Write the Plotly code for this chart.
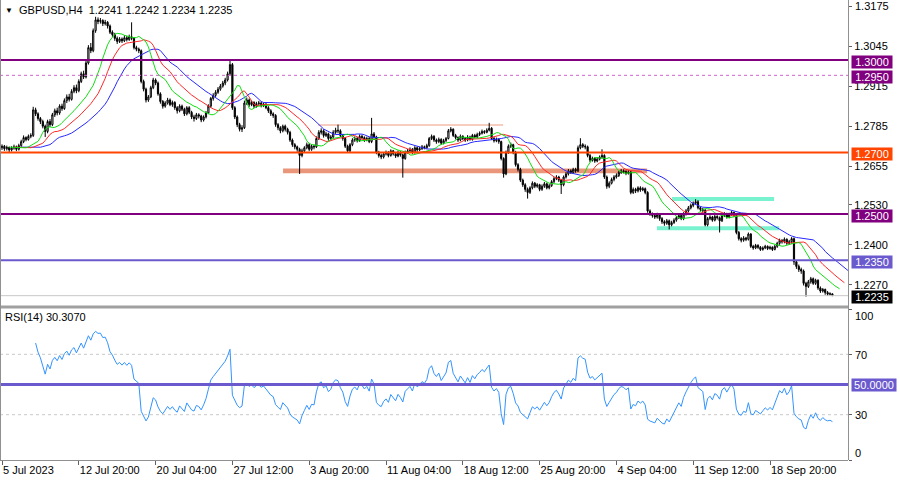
import numpy as np
import plotly.graph_objects as go

# ---------------- data (prices in pips: 2720 -> 1.2720) ----------------
symbol_title = "GBPUSD,H4\u00a0\u00a01.2241 1.2242 1.2234 1.2235"
rsi_title = "RSI(14) 30.3070"

tick_bars = [0, 32, 64, 96, 128, 160, 192, 224, 256, 288, 320]
tick_labels = ["5 Jul 2023", "12 Jul 20:00", "20 Jul 04:00", "27 Jul 12:00", "3 Aug 20:00",
               "11 Aug 04:00", "18 Aug 12:00", "25 Aug 20:00", "4 Sep 04:00", "11 Sep 12:00",
               "18 Sep 20:00"]
price_ticks = [1.3175, 1.3045, 1.2915, 1.2785, 1.2655, 1.2530, 1.2400, 1.2270]

opens_p = [
    2715, 2720, 2712, 2716, 2708, 2714, 2718, 2710, 2722, 2735,
    2748, 2742, 2752, 2755, 2838, 2825, 2810, 2800, 2785, 2768,
    2800, 2790, 2822, 2835, 2828, 2850, 2842, 2868, 2880, 2872,
    2898, 2910, 2900, 2930, 2955, 2945, 2990, 3040, 3030, 3095,
    3130, 3125, 3128, 3118, 3122, 3110, 3090, 3082, 3070, 3060,
    3068, 3062, 3072, 3066, 3075, 3070, 3040, 3035, 3030, 2930,
    2905, 2870, 2880, 2910, 2935, 2925, 2890, 2865, 2850, 2860,
    2870, 2855, 2862, 2845, 2835, 2850, 2840, 2825, 2845, 2830,
    2815, 2810, 2822, 2818, 2805, 2815, 2828, 2850, 2875, 2885,
    2895, 2905, 2915, 2925, 2935, 2955, 2985, 2845, 2815, 2790,
    2775, 2780, 2860, 2870, 2855, 2862, 2850, 2858, 2860, 2852,
    2856, 2845, 2835, 2825, 2820, 2790, 2780, 2770, 2785, 2775,
    2765, 2740, 2725, 2718, 2710, 2690, 2705, 2715, 2725, 2710,
    2720, 2718, 2745, 2765, 2770, 2755, 2760, 2745, 2750, 2765,
    2772, 2770, 2755, 2745, 2720, 2705, 2725, 2740, 2745, 2738,
    2752, 2748, 2740, 2745, 2735, 2760, 2750, 2700, 2690, 2685,
    2695, 2700, 2690, 2705, 2695, 2688, 2700, 2692, 2680, 2700,
    2705, 2710, 2700, 2715, 2708, 2712, 2718, 2715, 2722, 2745,
    2752, 2740, 2735, 2742, 2730, 2738, 2745, 2770, 2775, 2755,
    2748, 2740, 2752, 2745, 2740, 2750, 2742, 2755, 2750, 2758,
    2762, 2768, 2765, 2772, 2778, 2745, 2738, 2742, 2735, 2680,
    2630, 2700, 2720, 2725, 2700, 2660, 2645, 2610, 2595, 2580,
    2570, 2585, 2600, 2590, 2595, 2580, 2590, 2598, 2585, 2592,
    2605, 2615, 2620, 2610, 2595, 2620, 2630, 2640, 2635, 2645,
    2640, 2715, 2725, 2720, 2718, 2690, 2675, 2680, 2672, 2678,
    2685, 2690, 2620, 2590, 2600, 2612, 2620, 2625, 2635, 2640,
    2638, 2632, 2636, 2570, 2580, 2575, 2585, 2578, 2582, 2570,
    2510, 2500, 2495, 2490, 2498, 2485, 2475, 2470, 2478, 2465,
    2472, 2480, 2488, 2495, 2485, 2500, 2510, 2520, 2528, 2535,
    2540, 2520, 2515, 2512, 2465, 2485, 2490, 2480, 2492, 2488,
    2478, 2495, 2500, 2490, 2498, 2505, 2495, 2440, 2420, 2415,
    2422, 2418, 2435, 2395, 2390, 2398, 2392, 2385, 2390, 2395,
    2388, 2392, 2385, 2395, 2405, 2415, 2410, 2418, 2405, 2410,
    2420, 2345, 2330, 2320, 2315, 2275, 2265, 2280, 2290, 2275,
    2285, 2260, 2250, 2255, 2245, 2240, 2241]

highs_p = [
    2726, 2724, 2722, 2719, 2720, 2725, 2722, 2728, 2741, 2755,
    2752, 2758, 2762, 2848, 2845, 2830, 2815, 2806, 2790, 2806,
    2808, 2828, 2842, 2845, 2856, 2858, 2875, 2888, 2890, 2905,
    2918, 2920, 2937, 2962, 2965, 2998, 3048, 3055, 3102, 3140,
    3138, 3136, 3132, 3130, 3126, 3115, 3096, 3088, 3076, 3074,
    3073, 3080, 3078, 3082, 3122, 3074, 3046, 3040, 3034, 2936,
    2910, 2886, 2916, 2942, 2940, 2930, 2895, 2870, 2866, 2877,
    2875, 2868, 2866, 2850, 2856, 2855, 2845, 2850, 2850, 2835,
    2822, 2828, 2827, 2822, 2820, 2834, 2856, 2880, 2892, 2902,
    2912, 2922, 2932, 2942, 2962, 2998, 2990, 2850, 2820, 2796,
    2788, 2868, 2878, 2875, 2868, 2866, 2864, 2867, 2865, 2862,
    2860, 2850, 2840, 2830, 2824, 2795, 2785, 2790, 2790, 2780,
    2770, 2745, 2730, 2722, 2715, 2712, 2720, 2732, 2730, 2726,
    2725, 2752, 2772, 2778, 2775, 2767, 2764, 2756, 2772, 2780,
    2790, 2775, 2760, 2750, 2725, 2730, 2746, 2752, 2750, 2758,
    2757, 2752, 2751, 2750, 2812, 2766, 2754, 2705, 2696, 2700,
    2706, 2704, 2710, 2708, 2700, 2706, 2704, 2696, 2706, 2711,
    2716, 2714, 2720, 2719, 2718, 2724, 2722, 2728, 2750, 2758,
    2756, 2745, 2748, 2746, 2744, 2750, 2776, 2782, 2778, 2760,
    2752, 2758, 2756, 2750, 2756, 2754, 2760, 2760, 2764, 2768,
    2774, 2772, 2778, 2796, 2782, 2750, 2748, 2746, 2738, 2684,
    2706, 2726, 2732, 2728, 2705, 2665, 2650, 2615, 2600, 2586,
    2590, 2606, 2604, 2600, 2598, 2596, 2604, 2602, 2598, 2610,
    2620, 2626, 2624, 2614, 2625, 2636, 2646, 2645, 2650, 2650,
    2722, 2746, 2730, 2726, 2722, 2695, 2686, 2684, 2684, 2690,
    2710, 2694, 2625, 2606, 2618, 2626, 2632, 2640, 2646, 2645,
    2642, 2642, 2640, 2586, 2585, 2590, 2590, 2588, 2586, 2574,
    2515, 2505, 2500, 2504, 2502, 2490, 2480, 2484, 2482, 2478,
    2486, 2494, 2500, 2500, 2506, 2516, 2526, 2534, 2541, 2548,
    2545, 2525, 2520, 2516, 2490, 2496, 2494, 2498, 2496, 2492,
    2500, 2506, 2504, 2504, 2510, 2508, 2498, 2445, 2425, 2428,
    2426, 2440, 2438, 2400, 2403, 2402, 2396, 2395, 2400, 2398,
    2397, 2395, 2400, 2410, 2420, 2418, 2424, 2421, 2416, 2425,
    2424, 2350, 2336, 2326, 2320, 2280, 2286, 2296, 2294, 2290,
    2288, 2265, 2260, 2258, 2250, 2246, 2242]

lows_p = [
    2708, 2705, 2706, 2700, 2703, 2709, 2704, 2706, 2718, 2730,
    2736, 2738, 2746, 2750, 2818, 2803, 2792, 2778, 2750, 2762,
    2782, 2785, 2815, 2820, 2822, 2835, 2838, 2860, 2865, 2868,
    2892, 2892, 2895, 2925, 2938, 2940, 2985, 3022, 3025, 3088,
    3116, 3118, 3110, 3112, 3102, 3084, 3075, 3062, 3052, 3055,
    3055, 3058, 3060, 3062, 3064, 3034, 3028, 3022, 2924, 2898,
    2862, 2864, 2876, 2905, 2918, 2884, 2858, 2842, 2845, 2855,
    2850, 2848, 2838, 2826, 2830, 2834, 2818, 2820, 2824, 2808,
    2800, 2805, 2810, 2798, 2800, 2810, 2824, 2845, 2868, 2880,
    2890, 2900, 2910, 2918, 2930, 2950, 2838, 2808, 2782, 2768,
    2766, 2776, 2854, 2848, 2850, 2844, 2845, 2852, 2846, 2847,
    2840, 2828, 2818, 2812, 2783, 2772, 2762, 2765, 2768, 2758,
    2734, 2718, 2710, 2702, 2630, 2684, 2698, 2710, 2704, 2705,
    2710, 2714, 2740, 2758, 2748, 2750, 2738, 2740, 2745, 2760,
    2762, 2750, 2738, 2714, 2698, 2700, 2720, 2734, 2732, 2734,
    2742, 2734, 2736, 2730, 2730, 2744, 2694, 2683, 2678, 2680,
    2690, 2684, 2686, 2690, 2682, 2684, 2686, 2618, 2676, 2696,
    2700, 2694, 2696, 2702, 2704, 2708, 2710, 2712, 2718, 2740,
    2734, 2728, 2730, 2724, 2726, 2734, 2742, 2765, 2750, 2742,
    2734, 2736, 2740, 2734, 2736, 2738, 2738, 2745, 2746, 2753,
    2758, 2760, 2762, 2768, 2740, 2732, 2733, 2728, 2674, 2618,
    2626, 2695, 2714, 2694, 2654, 2638, 2604, 2588, 2572, 2550,
    2565, 2580, 2584, 2585, 2574, 2575, 2585, 2580, 2580, 2588,
    2600, 2610, 2604, 2565, 2590, 2615, 2625, 2630, 2630, 2634,
    2636, 2710, 2714, 2710, 2684, 2668, 2670, 2666, 2668, 2674,
    2680, 2614, 2582, 2584, 2596, 2606, 2615, 2620, 2630, 2632,
    2626, 2628, 2564, 2565, 2568, 2570, 2572, 2574, 2564, 2504,
    2494, 2488, 2484, 2485, 2478, 2468, 2462, 2465, 2450, 2460,
    2468, 2475, 2484, 2480, 2480, 2495, 2505, 2515, 2522, 2530,
    2515, 2508, 2505, 2460, 2460, 2480, 2475, 2476, 2482, 2440,
    2474, 2490, 2485, 2486, 2494, 2490, 2434, 2414, 2408, 2410,
    2412, 2414, 2390, 2384, 2386, 2387, 2380, 2381, 2386, 2383,
    2384, 2380, 2382, 2390, 2400, 2404, 2405, 2400, 2400, 2404,
    2335, 2322, 2312, 2306, 2268, 2232, 2260, 2274, 2270, 2270,
    2254, 2244, 2245, 2238, 2234, 2235, 2234]

closes_p = [
    2720, 2712, 2716, 2708, 2714, 2718, 2710, 2722, 2735, 2748,
    2742, 2752, 2755, 2838, 2825, 2810, 2800, 2785, 2768, 2800,
    2790, 2822, 2835, 2828, 2850, 2842, 2868, 2880, 2872, 2898,
    2910, 2900, 2930, 2955, 2945, 2990, 3040, 3030, 3095, 3130,
    3125, 3128, 3118, 3122, 3110, 3090, 3082, 3070, 3060, 3068,
    3062, 3072, 3066, 3075, 3070, 3040, 3035, 3030, 2930, 2905,
    2870, 2880, 2910, 2935, 2925, 2890, 2865, 2850, 2860, 2870,
    2855, 2862, 2845, 2835, 2850, 2840, 2825, 2845, 2830, 2815,
    2810, 2822, 2818, 2805, 2815, 2828, 2850, 2875, 2885, 2895,
    2905, 2915, 2925, 2935, 2955, 2985, 2845, 2815, 2790, 2775,
    2780, 2860, 2870, 2855, 2862, 2850, 2858, 2860, 2852, 2856,
    2845, 2835, 2825, 2820, 2790, 2780, 2770, 2785, 2775, 2765,
    2740, 2725, 2718, 2710, 2690, 2705, 2715, 2725, 2710, 2720,
    2718, 2745, 2765, 2770, 2755, 2760, 2745, 2750, 2765, 2772,
    2770, 2755, 2745, 2720, 2705, 2725, 2740, 2745, 2738, 2752,
    2748, 2740, 2745, 2735, 2760, 2750, 2700, 2690, 2685, 2695,
    2700, 2690, 2705, 2695, 2688, 2700, 2692, 2680, 2700, 2705,
    2710, 2700, 2715, 2708, 2712, 2718, 2715, 2722, 2745, 2752,
    2740, 2735, 2742, 2730, 2738, 2745, 2770, 2775, 2755, 2748,
    2740, 2752, 2745, 2740, 2750, 2742, 2755, 2750, 2758, 2762,
    2768, 2765, 2772, 2778, 2745, 2738, 2742, 2735, 2680, 2630,
    2700, 2720, 2725, 2700, 2660, 2645, 2610, 2595, 2580, 2570,
    2585, 2600, 2590, 2595, 2580, 2590, 2598, 2585, 2592, 2605,
    2615, 2620, 2610, 2595, 2620, 2630, 2640, 2635, 2645, 2640,
    2715, 2725, 2720, 2718, 2690, 2675, 2680, 2672, 2678, 2685,
    2690, 2620, 2590, 2600, 2612, 2620, 2625, 2635, 2640, 2638,
    2632, 2636, 2570, 2580, 2575, 2585, 2578, 2582, 2570, 2510,
    2500, 2495, 2490, 2498, 2485, 2475, 2470, 2478, 2465, 2472,
    2480, 2488, 2495, 2485, 2500, 2510, 2520, 2528, 2535, 2540,
    2520, 2515, 2512, 2465, 2485, 2490, 2480, 2492, 2488, 2478,
    2495, 2500, 2490, 2498, 2505, 2495, 2440, 2420, 2415, 2422,
    2418, 2435, 2395, 2390, 2398, 2392, 2385, 2390, 2395, 2388,
    2392, 2385, 2395, 2405, 2415, 2410, 2418, 2405, 2410, 2420,
    2345, 2330, 2320, 2315, 2275, 2265, 2280, 2290, 2275, 2285,
    2260, 2250, 2255, 2245, 2240, 2241, 2235]

level_prices = [1.3000, 1.2950, 1.2700, 1.2500, 1.2350]
level_names = ["1.3000", "1.2950", "1.2700", "1.2500", "1.2350"]
bid_price = 1.2235
rsi_levels = [30, 70]
rsi_mid = 50

assert len(opens_p) == len(highs_p) == len(lows_p) == len(closes_p)

# ---------------- derived series ----------------
o = 1 + np.array(opens_p) / 1e4
h = 1 + np.array(highs_p) / 1e4
l = 1 + np.array(lows_p) / 1e4
c = 1 + np.array(closes_p) / 1e4
n = len(c)
idx = np.arange(n)


def smma(src, period):
    out = np.empty(len(src))
    out[0] = src[0]
    for k in range(1, len(src)):
        out[k] = (out[k - 1] * (period - 1) + src[k]) / period
    return out


med = (h + l) / 2
jaw = smma(med, 13)
teeth = smma(med, 8)
lips = smma(med, 5)

period = 14
d = np.diff(c)
gain = np.clip(d, 0, None)
loss = np.clip(-d, 0, None)
rsi = np.full(n, np.nan)
ag = gain[:period].mean()
al = loss[:period].mean()
rsi[period] = 100 - 100 / (1 + ag / al)
for k in range(period + 1, n):
    ag = (ag * (period - 1) + gain[k - 1]) / period
    al = (al * (period - 1) + loss[k - 1]) / period
    rsi[k] = 100 - 100 / (1 + ag / al) if al > 0 else 100

# ---------------- figure ----------------
W, H = 900, 480
PLOT_R = 848


def px(x):
    return x / W


def py(y):
    return 1 - y / H


FONT = "Liberation Sans, Arial, sans-serif"
xr = [-2 / 2.4, (PLOT_R - 2) / 2.4]
yr = [1.3175 - 299 * 0.0003245, 1.3175 + 6 * 0.0003245]

fig = go.Figure()
fig.add_trace(go.Candlestick(
    x=idx, open=o, high=h, low=l, close=c,
    increasing=dict(line=dict(color="black", width=1), fillcolor="white"),
    decreasing=dict(line=dict(color="black", width=1), fillcolor="black"),
    whiskerwidth=0, hoverinfo="skip", xaxis="x", yaxis="y"))
fig.add_trace(go.Scatter(x=idx + 8, y=jaw, mode="lines", line=dict(color="#2828FF", width=1),
                         xaxis="x", yaxis="y", hoverinfo="skip"))
fig.add_trace(go.Scatter(x=idx + 5, y=teeth, mode="lines", line=dict(color="#FF2828", width=1),
                         xaxis="x", yaxis="y", hoverinfo="skip"))
fig.add_trace(go.Scatter(x=idx + 3, y=lips, mode="lines", line=dict(color="#12DD12", width=1),
                         xaxis="x", yaxis="y", hoverinfo="skip"))
fig.add_trace(go.Scatter(x=idx, y=rsi, mode="lines", line=dict(color="#3294FF", width=1),
                         xaxis="x2", yaxis="y2", hoverinfo="skip"))

shapes = []
# zones
shapes.append(dict(type="rect", xref="x", yref="y", x0=117.1, x1=268.8, y0=1.2632, y1=1.2648,
                   fillcolor="#E9967A", line=dict(width=0), layer="below"))
shapes.append(dict(type="line", xref="x", yref="y", x0=131.7, x1=208.8, y0=1.2789, y1=1.2789,
                   line=dict(color="#F6CDBE", width=2), layer="below"))
shapes.append(dict(type="rect", xref="x", yref="y", x0=279.2, x1=321.7, y0=1.2542, y1=1.2555,
                   fillcolor="#78F2CF", line=dict(width=0), layer="below"))
shapes.append(dict(type="rect", xref="x", yref="y", x0=272.9, x1=323.8, y0=1.2447, y1=1.2460,
                   fillcolor="#78F2CF", line=dict(width=0), layer="below"))
# level lines
level_styles = [("#800080", 2, "solid"), ("#CC66CC", 1, "dot"), ("#FF4500", 2, "solid"),
                ("#800080", 2, "solid"), ("#6A5ACD", 2, "solid")]
for lv, (col, wd, ds) in zip(level_prices, level_styles):
    shapes.append(dict(type="line", xref="x domain", yref="y", x0=0, x1=1, y0=lv, y1=lv,
                       line=dict(color=col, width=wd, dash=ds)))
shapes.append(dict(type="line", xref="x domain", yref="y", x0=0, x1=1, y0=bid_price, y1=bid_price,
                   line=dict(color="#C8C8C8", width=1)))
# RSI levels
for lv in rsi_levels:
    shapes.append(dict(type="line", xref="x2 domain", yref="y2", x0=0, x1=1, y0=lv, y1=lv,
                       line=dict(color="#C8C8C8", width=1, dash="dot"), layer="below"))
shapes.append(dict(type="line", xref="x2 domain", yref="y2", x0=0, x1=1, y0=rsi_mid, y1=rsi_mid,
                   line=dict(color="#6A5ACD", width=3)))
# frame / separators
shapes.append(dict(type="rect", xref="paper", yref="paper", x0=0, x1=px(PLOT_R), y0=py(308.5), y1=py(305.5),
                   fillcolor="#A0A0A0", line=dict(width=0)))
shapes.append(dict(type="line", xref="paper", yref="paper", x0=px(PLOT_R + 0.5), x1=px(PLOT_R + 0.5),
                   y0=py(0), y1=py(460), line=dict(color="#909090", width=1)))
shapes.append(dict(type="line", xref="paper", yref="paper", x0=px(0.5), x1=px(0.5),
                   y0=py(0), y1=py(460), line=dict(color="#909090", width=1)))

ann = []
ann.append(dict(x=px(8.5), y=py(10), xref="paper", yref="paper", text="▼", showarrow=False,
                font=dict(family=FONT, size=8, color="black"), xanchor="center", yanchor="middle"))
ann.append(dict(x=px(17), y=py(10), xref="paper", yref="paper", text=symbol_title, showarrow=False,
                font=dict(family=FONT, size=11, color="black"), xanchor="left", yanchor="middle"))
ann.append(dict(x=px(3), y=py(317), xref="paper", yref="paper", text=rsi_title, showarrow=False,
                font=dict(family=FONT, size=11, color="black"), xanchor="left", yanchor="middle"))
# top price label (drawn as text so it is not clipped at the page edge)
ann.append(dict(x=px(853), y=price_ticks[0], xref="paper", yref="y", text=f"{price_ticks[0]:.4f}",
                showarrow=False, font=dict(family=FONT, size=11, color="black"),
                xanchor="left", yanchor="middle"))
label_bg = ["#800080", "#800080", "#FF4500", "#800080", "#6A5ACD"]
for lv, name, bg in zip(level_prices, level_names, label_bg):
    ann.append(dict(x=px(851), y=lv, xref="paper", yref="y", text=name, showarrow=False,
                    font=dict(family=FONT, size=11, color="white"), bgcolor=bg, borderpad=0,
                    width=40, height=12, xanchor="left", yanchor="middle", yshift=-2))
ann.append(dict(x=px(851), y=bid_price, xref="paper", yref="y", text=f"{bid_price:.4f}", showarrow=False,
                font=dict(family=FONT, size=11, color="white"), bgcolor="black", borderpad=0,
                width=40, height=12, xanchor="left", yanchor="middle", yshift=-1))
ann.append(dict(x=px(851), y=rsi_mid, xref="paper", yref="y2", text=f"{rsi_mid:.4f}", showarrow=False,
                font=dict(family=FONT, size=11, color="white"), bgcolor="#6A5ACD", borderpad=0,
                width=44, height=12, xanchor="left", yanchor="middle"))
for val, ypix in [("100", 316), ("70", 355), ("30", 415), ("0", 453)]:
    ann.append(dict(x=px(853), y=py(ypix), xref="paper", yref="paper", text=val, showarrow=False,
                    font=dict(family=FONT, size=11, color="black"), xanchor="left", yanchor="middle"))

fig.update_layout(
    width=W, height=H, margin=dict(l=0, r=0, t=0, b=0, autoexpand=False),
    paper_bgcolor="white", plot_bgcolor="white", showlegend=False,
    xaxis=dict(domain=[0, px(PLOT_R)], range=xr, showticklabels=False, showgrid=False, zeroline=False,
               rangeslider=dict(visible=False), anchor="y", fixedrange=True, automargin=False),
    yaxis=dict(domain=[py(305), 1], range=yr, side="right", anchor="x", automargin=False,
               tickvals=price_ticks, ticktext=[""] + [f"{v:.4f}" for v in price_ticks[1:]],
               ticks="outside", ticklen=3, tickcolor="#606060", showgrid=False, zeroline=False,
               tickfont=dict(family=FONT, size=11, color="black")),
    xaxis2=dict(domain=[0, px(PLOT_R)], range=xr, anchor="y2", tickvals=tick_bars, ticktext=tick_labels,
                ticks="outside", ticklen=4, tickcolor="#606060", ticklabelposition="outside right",
                showgrid=False, zeroline=False, showline=True, linecolor="#909090", linewidth=1,
                automargin=False, tickfont=dict(family=FONT, size=11, color="black")),
    yaxis2=dict(domain=[py(460), py(309)], range=[0, 100], side="right", anchor="x2", automargin=False,
                tickvals=[0, 30, 70, 100], showticklabels=False, ticks="outside", ticklen=3,
                tickcolor="#606060", showgrid=False, zeroline=False),
    shapes=shapes, annotations=ann,
)

fig.write_html("out.html", config={"displayModeBar": False},
               post_script="document.body.style.margin='0';document.body.style.padding='0';"
                           "document.body.style.overflow='hidden';")
